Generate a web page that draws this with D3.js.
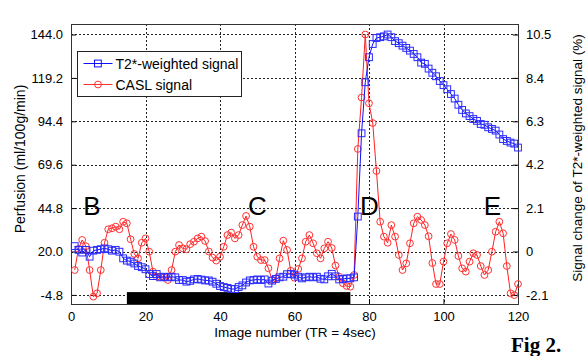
<!DOCTYPE html>
<html>
<head>
<meta charset="utf-8">
<script src="https://cdn.jsdelivr.net/npm/d3@7"></script>
<style>
body { margin: 0; background: #fff; }
text { font-family: Arial, "Liberation Sans", sans-serif; fill: #000; }
</style>
</head>
<body>
<div id="chart"></div>
<script>
// image numbers
const frames = d3.range(1, 121);

// CASL perfusion signal (ml/100g/min), left axis
const casl = [
    9.4, 21.5, 26.6, 23.0, 9.4, -5.8, -3.9, 9.4, 25.0, 32.7,
    33.3, 34.2, 32.7, 37.0, 36.1, 27.0, 18.6, 16.1, 25.0, 27.5,
    19.9, 8.5, 5.6, 5.6, 5.2, 3.7, 9.4, 19.9, 23.7, 21.8,
    21.3, 24.2, 25.6, 27.5, 28.5, 26.0, 20.0, 16.5, 14.8, 17.0,
    22.7, 29.4, 30.8, 27.5, 29.4, 35.1, 40.3, 34.2, 22.7, 17.0,
    15.1, 15.1, 10.4, 3.7, 4.7, 16.1, 26.2, 20.9, 9.0, 5.0,
    10.0, 16.1, 25.6, 29.4, 24.7, 19.0, 16.1, 21.8, 25.6, 22.0,
    12.0, 5.6, 1.8, 0.3, -0.1, 6.6, 78.6, 108.0, 144.0, 104.7,
    93.4, 66.0, 37.0, 28.5, 25.0, 35.1, 28.5, 18.0, 9.4, 13.2,
    24.7, 36.1, 39.9, 38.0, 35.1, 28.7, 13.4, 1.4, 1.4, 14.2,
    24.7, 30.0, 26.6, 17.4, 10.4, 8.5, 14.2, 19.0, 18.0, 11.7,
    6.6, 9.4, 19.9, 31.3, 37.0, 30.4, 11.7, -3.9, -4.9, 1.4
];

// T2*-weighted signal change (%), right axis
const t2star = [
    0.26, 0.08, -0.05, 0.08, -0.25, 0.04, 0.08, 0.11, 0.15, 0.11,
    0.04, 0.08, -0.01, -0.33, -0.44, -0.49, -0.58, -0.70, -0.76, -0.86,
    -1.09, -1.19, -1.09, -1.25, -1.22, -1.25, -1.22, -1.25, -1.38, -1.38,
    -1.46, -1.42, -1.35, -1.33, -1.36, -1.40, -1.40, -1.46, -1.56, -1.67,
    -1.72, -1.76, -1.81, -1.82, -1.72, -1.64, -1.50, -1.40, -1.38, -1.35,
    -1.38, -1.35, -1.55, -1.41, -1.33, -1.25, -1.22, -1.10, -1.08, -1.12,
    -1.22, -1.30, -1.25, -1.22, -1.25, -1.22, -1.32, -1.35, -1.20, -1.08,
    -1.20, -1.35, -1.33, -1.30, -1.30, -1.25, 1.69, 5.72, 8.19, 9.40,
    10.04, 10.33, 10.37, 10.41, 10.50, 10.37, 10.18, 10.08, 9.96, 9.85,
    9.72, 9.56, 9.40, 9.14, 9.08, 8.85, 8.65, 8.48, 8.25, 8.05,
    7.85, 7.62, 7.40, 7.10, 6.85, 6.68, 6.55, 6.41, 6.32, 6.17,
    6.13, 6.01, 5.93, 5.85, 5.66, 5.44, 5.35, 5.27, 5.22, 5.03
];

// tick labels
const xTicks = [0, 20, 40, 60, 80, 100, 120];
const leftTicks = [-4.8, 20.0, 44.8, 69.6, 94.4, 119.2, 144.0];
const rightTicks = [-2.1, 0, 2.1, 4.2, 6.3, 8.4, 10.5];

// stimulus bar (image numbers) and its top (perfusion units)
const barRange = [15, 75];
const barTop = -3.2;

// period letters
const periodNames = ["B", "C", "D", "E"];
const periodX = [3.3, 47.5, 77.6, 110.8];
const periodY = 41;

const legendNames = ["T2*-weighted signal", "CASL signal"];

const width = 587, height = 356;
const plot = { left: 71, right: 518, top: 24, bottom: 304 };

const svg = d3.select("#chart").append("svg")
    .attr("width", width)
    .attr("height", height);

const x = d3.scaleLinear().domain([0, 120]).range([plot.left, plot.right]);
const yL = d3.scaleLinear().domain([-10, 150]).range([plot.bottom, plot.top]);
// right axis: 24.8 perfusion units per 2.1 %, 20.0 <-> 0
const toPct = v => (v - 20) * 2.1 / 24.8;
const yR = d3.scaleLinear().domain([toPct(-10), toPct(150)]).range([plot.bottom, plot.top]);

// grid
const grid = svg.append("g").attr("stroke", "#222").attr("stroke-dasharray", "2,2").attr("stroke-width", 1);
xTicks.slice(1, -1).forEach(t => {
    grid.append("line").attr("x1", Math.round(x(t)) + 0.5).attr("x2", Math.round(x(t)) + 0.5)
        .attr("y1", plot.top).attr("y2", plot.bottom);
});
leftTicks.forEach(t => {
    grid.append("line").attr("y1", Math.round(yL(t)) + 0.5).attr("y2", Math.round(yL(t)) + 0.5)
        .attr("x1", plot.left).attr("x2", plot.right);
});

// black stimulus bar
svg.append("rect")
    .attr("x", x(barRange[0]))
    .attr("width", x(barRange[1]) - x(barRange[0]))
    .attr("y", yL(barTop))
    .attr("height", yL(-10) - yL(barTop))
    .attr("fill", "#000");

// axes
const fmt = d => d === 0 ? "0" : d.toFixed(1);
const xAxis = svg.append("g").attr("transform", `translate(0,${plot.bottom})`)
    .call(d3.axisBottom(x).tickValues(xTicks).tickSizeInner(-5).tickSizeOuter(0).tickPadding(8));
const lAxis = svg.append("g").attr("transform", `translate(${plot.left},0)`)
    .call(d3.axisLeft(yL).tickValues(leftTicks).tickFormat(d => d.toFixed(1)).tickSizeInner(-5).tickSizeOuter(0).tickPadding(8));
const rAxis = svg.append("g").attr("transform", `translate(${plot.right},0)`)
    .call(d3.axisRight(yR).tickValues(rightTicks).tickFormat(fmt).tickSizeInner(-5).tickSizeOuter(0).tickPadding(8));
[xAxis, lAxis, rAxis].forEach(a => {
    a.selectAll("text").style("font-size", "13px").style("font-family", "Arial, 'Liberation Sans', sans-serif");
    a.select(".domain").remove();
});

// frame
svg.append("rect")
    .attr("x", plot.left + 0.5).attr("y", plot.top + 0.5)
    .attr("width", plot.right - plot.left).attr("height", plot.bottom - plot.top)
    .attr("fill", "none").attr("stroke", "#333");

// CASL (red circles)
const caslLine = d3.line().x((d, i) => x(frames[i])).y(d => yL(d));
svg.append("path").datum(casl)
    .attr("d", caslLine).attr("fill", "none").attr("stroke", "#ff2020").attr("stroke-width", 1);
svg.append("g").selectAll("circle").data(casl).join("circle")
    .attr("cx", (d, i) => x(frames[i])).attr("cy", d => yL(d)).attr("r", 3.4)
    .attr("fill", "none").attr("stroke", "#ff3030").attr("stroke-width", 1);

// T2* (blue squares)
const t2Line = d3.line().x((d, i) => x(frames[i])).y(d => yR(d));
svg.append("path").datum(t2star)
    .attr("d", t2Line).attr("fill", "none").attr("stroke", "#1010ff").attr("stroke-width", 1);
svg.append("g").selectAll("rect").data(t2star).join("rect")
    .attr("x", (d, i) => x(frames[i]) - 3.4).attr("y", d => yR(d) - 3.4)
    .attr("width", 6.8).attr("height", 6.8)
    .attr("fill", "none").attr("stroke", "#2a2aff").attr("stroke-width", 1);

// period letters
periodNames.forEach((p, i) => {
    svg.append("text").attr("x", x(periodX[i])).attr("y", yL(periodY))
        .style("font-size", "26px").text(p);
});

// legend
const lg = svg.append("g").attr("transform", "translate(77.5,51.5)");
lg.append("rect").attr("width", 164).attr("height", 45).attr("fill", "#fff").attr("stroke", "#222");
const lgColors = ["#1010ff", "#ff3030"];
legendNames.forEach((name, i) => {
    const yy = 12 + i * 21;
    lg.append("line").attr("x1", 6).attr("x2", 35).attr("y1", yy).attr("y2", yy)
        .attr("stroke", lgColors[i]);
    if (i === 0) {
        lg.append("rect").attr("x", 17).attr("y", yy - 3.4).attr("width", 6.8).attr("height", 6.8)
            .attr("fill", "none").attr("stroke", lgColors[i]);
    } else {
        lg.append("circle").attr("cx", 20.5).attr("cy", yy).attr("r", 3.4)
            .attr("fill", "none").attr("stroke", lgColors[i]);
    }
    lg.append("text").attr("x", 38).attr("y", yy + 5).style("font-size", "14px").text(name);
});

// axis titles
svg.append("text")
    .attr("transform", "translate(25,159) rotate(-90)")
    .attr("text-anchor", "middle").style("font-size", "14px")
    .text("Perfusion (ml/100g/min)");
svg.append("text")
    .attr("transform", "translate(582,158) rotate(-90)")
    .attr("text-anchor", "middle").style("font-size", "13.5px")
    .text("Signal change of T2*-weighted signal (%)");
svg.append("text")
    .attr("x", 295).attr("y", 337)
    .attr("text-anchor", "middle").style("font-size", "13.5px")
    .text("Image number (TR = 4sec)");

svg.append("text")
    .attr("x", 511).attr("y", 352)
    .style("font-family", "'Times New Roman', 'Liberation Serif', serif")
    .style("font-weight", "bold").style("font-size", "21px")
    .text("Fig 2.");
</script>
</body>
</html>
